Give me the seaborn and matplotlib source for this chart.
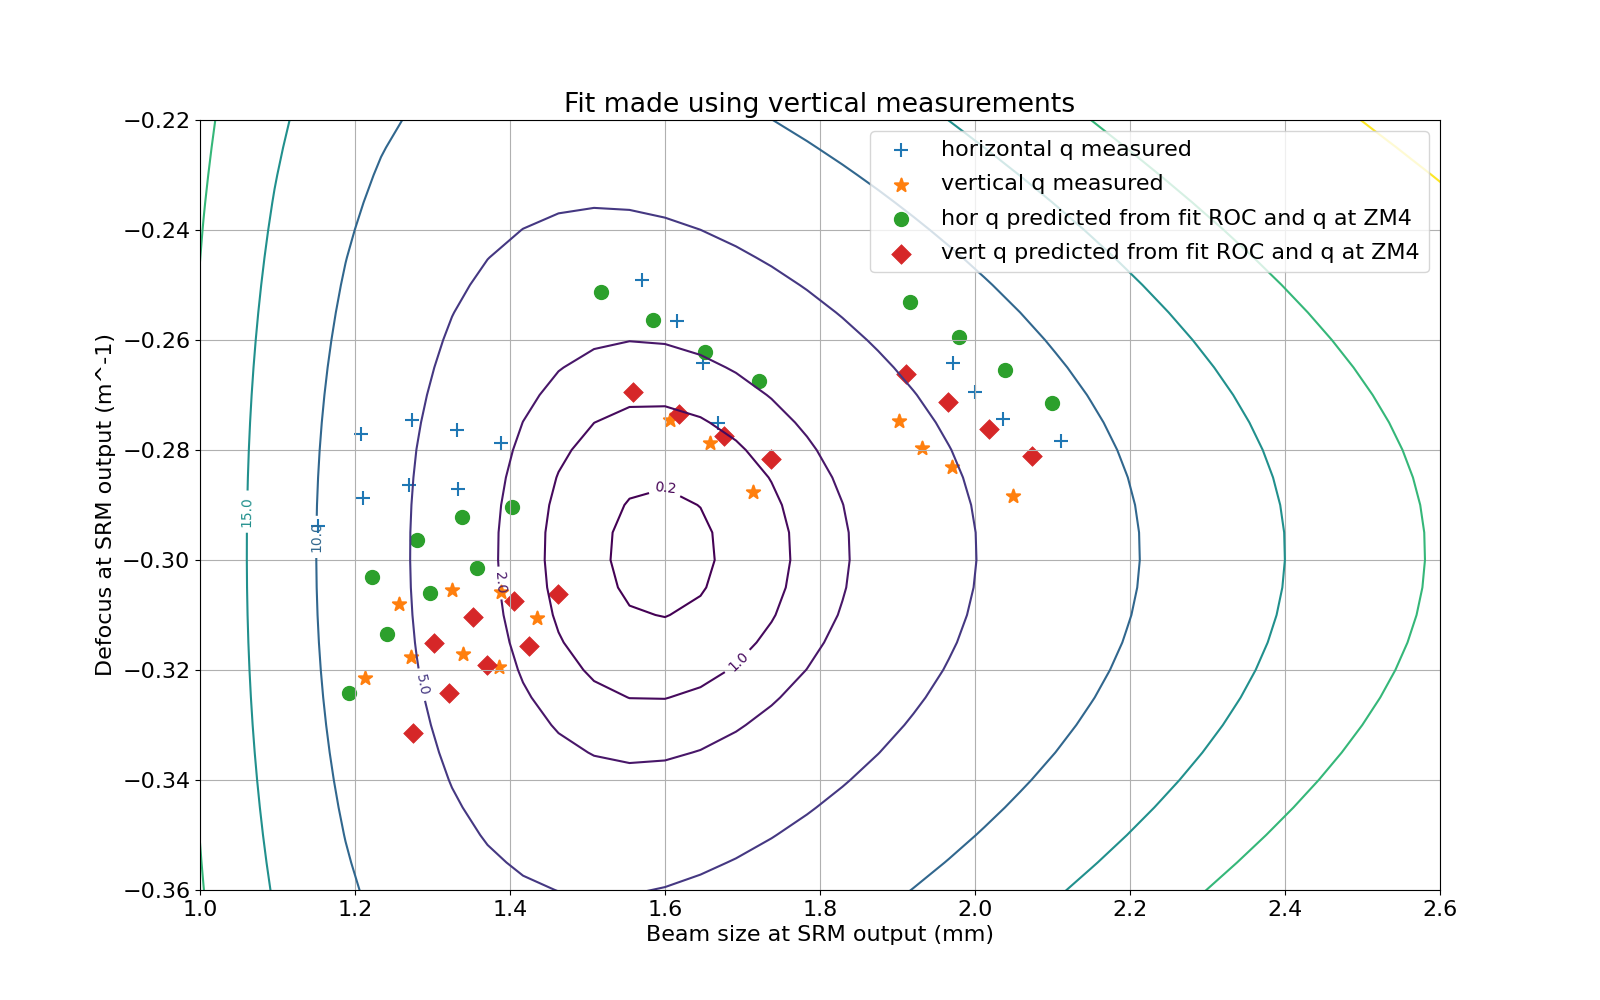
import numpy as np
import matplotlib
matplotlib.use("Agg")
import matplotlib.pyplot as plt
import seaborn as sns

# fitted beam at SRM output = centre of the mode mismatch map
W_FIT = 1.595          # mm
S_FIT = -0.2986        # m^-1
WAVELENGTH = 1064e-9   # m
LEVELS = [0.2, 1.0, 2.0, 5.0, 10.0, 15.0, 20.0, 30.0]

# measured / predicted beams (beam size in mm, defocus in m^-1)
hor_meas_w = [1.2077, 1.2731, 1.3312, 1.3880, 1.2099, 1.2697, 1.3325, 1.1527,
              1.5699, 1.6151, 1.6486, 1.6680, 1.9716, 2.0000, 2.0357, 2.1110]
hor_meas_s = [-0.2770, -0.2745, -0.2764, -0.2788, -0.2887, -0.2864, -0.2871, -0.2939,
              -0.2490, -0.2565, -0.2641, -0.2751, -0.2642, -0.2695, -0.2744, -0.2784]

vert_meas_w = [1.3256, 1.2572, 1.3880, 1.4352, 1.2718, 1.3398, 1.3862, 1.2129,
               1.6065, 1.6581, 1.7140, 1.9024, 1.9316, 1.9703, 2.0495]
vert_meas_s = [-0.3055, -0.3080, -0.3058, -0.3105, -0.3176, -0.3171, -0.3195, -0.3214,
               -0.2745, -0.2788, -0.2877, -0.2747, -0.2797, -0.2831, -0.2884]

hor_pred_w = [1.4030, 1.3385, 1.2796, 1.3579, 1.2224, 1.2968, 1.2417, 1.1927,
              1.5178, 1.5850, 1.6520, 1.7217, 1.9166, 1.9789, 2.0391, 2.0998]
hor_pred_s = [-0.2904, -0.2922, -0.2963, -0.3014, -0.3030, -0.3060, -0.3135, -0.3242,
              -0.2512, -0.2564, -0.2621, -0.2675, -0.2531, -0.2595, -0.2655, -0.2714]

vert_pred_w = [1.4624, 1.4052, 1.3527, 1.3024, 1.4249, 1.3707, 1.3217, 1.2753,
               1.5591, 1.6181, 1.6761, 1.7368, 1.9110, 1.9656, 2.0185, 2.0731]
vert_pred_s = [-0.3061, -0.3075, -0.3104, -0.3150, -0.3156, -0.3191, -0.3242, -0.3315,
               -0.2695, -0.2735, -0.2775, -0.2817, -0.2661, -0.2712, -0.2761, -0.2810]

# where the contour labels sit
label_spots = [(1.600, -0.2871), (1.6925, -0.3183), (1.3858, -0.3042),
               (1.2848, -0.3227), (1.1471, -0.2958), (1.0581, -0.2912)]


def mismatch(w, s):
    """Mode mismatch (%) between beam (w, s) and the fitted beam"""
    b = WAVELENGTH / (np.pi * (w * 1e-3) ** 2)
    b0 = WAVELENGTH / (np.pi * (W_FIT * 1e-3) ** 2)
    ds = s - S_FIT
    return 100 * (ds ** 2 + (b - b0) ** 2) / (ds ** 2 + (b + b0) ** 2)


plt.rcParams['font.size'] = 16
fig, ax = plt.subplots(figsize=(16, 10), dpi=100)

# coarse sampling of the map, like the original
w_grid = 1.6 + 0.0458 * np.arange(-14, 24)
s_grid = -0.30 + 0.005 * np.arange(-13, 17)
W, S = np.meshgrid(w_grid, s_grid)
cs = ax.contour(W, S, mismatch(W, S), levels=LEVELS, cmap='viridis', linewidths=1.5)
ax.clabel(cs, levels=LEVELS[:6], fmt='%1.1f', fontsize=10, manual=label_spots)

sns.scatterplot(x=hor_meas_w, y=hor_meas_s, marker='+', s=100, color='tab:blue',
                linewidth=1.5, label='horizontal q measured', ax=ax)
sns.scatterplot(x=vert_meas_w, y=vert_meas_s, marker='*', s=100, color='tab:orange',
                edgecolor='tab:orange', linewidth=1.5, label='vertical q measured', ax=ax)
sns.scatterplot(x=hor_pred_w, y=hor_pred_s, marker='o', s=100, color='tab:green',
                edgecolor='tab:green', linewidth=1.0,
                label='hor q predicted from fit ROC and q at ZM4', ax=ax)
sns.scatterplot(x=vert_pred_w, y=vert_pred_s, marker='D', s=100, color='tab:red',
                edgecolor='tab:red', linewidth=0.5,
                label='vert q predicted from fit ROC and q at ZM4', ax=ax)

ax.set_xlim(1.0, 2.6)
ax.set_ylim(-0.36, -0.22)
ax.grid(True)
ax.set_title('Fit made using vertical measurements')
ax.set_xlabel('Beam size at SRM output (mm)')
ax.set_ylabel('Defocus at SRM output (m^-1)')
ax.legend(loc='upper right', labelspacing=0.65)

fig.savefig('out.png', dpi=100)
